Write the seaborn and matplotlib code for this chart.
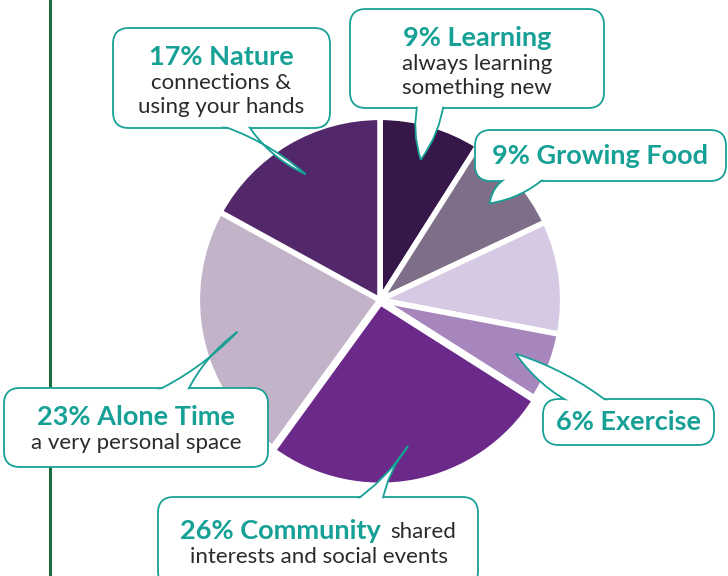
# -*- coding: utf-8 -*-
"""
Pie of what makes people feel well, with speech-bubble callouts.
"""

import numpy as np
import matplotlib
matplotlib.use("Agg")
import matplotlib.pyplot as plt
import seaborn as sns
from matplotlib.patches import FancyBboxPatch, PathPatch
from matplotlib.path import Path


#%% Data

Categories = ["Learning", "Growing Food", "Other", "Exercise", "Community", "Alone Time", "Nature"]
Shares     = [9, 9, 10, 6, 26, 23, 17]

Titles = {"Learning": "9% Learning",
          "Growing Food": "9% Growing Food",
          "Exercise": "6% Exercise",
          "Community": "26% Community",
          "Alone Time": "23% Alone Time",
          "Nature": "17% Nature"}

Notes = {"Learning": "always learning\nsomething new",
         "Growing Food": "",
         "Exercise": "",
         "Community": "interests and social events",
         "Alone Time": "a very personal space",
         "Nature": "connections &\nusing your hands"}

Community_Extra = "shared"


#%% Style

Palette = ["#35174a", "#7f6e88", "#d6c9e3", "#a686bd", "#6b2a8a", "#c2b3c9", "#53286b"]
Explode = [0, 0, 0, 0, 0.015, 0, 0]

Teal       = "#17a096"
Text_Color = "#2a2a2a"
Line_Green = "#1b6b3f"

FontSize_Title = 19.5
FontSize_Note  = 16
FontName       = ["Lato", "DejaVu Sans"]

Wedge_LineWidth = 4
Box_LineWidth   = 1.3
Tip_Radius      = 0.8

# callout layout in pixels (x0, y0 top, width, height), base of pointer (two points), bend
Callouts = {
    "Nature":       dict(box=(113, 28, 217, 100), base=[(210, 122), (246, 122)], bend=-12),
    "Learning":     dict(box=(350, 9, 254, 99),   base=[(418, 102), (444, 102)], bend=8),
    "Growing Food": dict(box=(475, 130, 251, 51), base=[(512, 175), (548, 175)], bend=10),
    "Exercise":     dict(box=(543, 399, 171, 46), base=[(575, 405), (612, 405)], bend=-10),
    "Community":    dict(box=(158, 497, 320, 90), base=[(352, 503), (382, 503)], bend=8),
    "Alone Time":   dict(box=(4, 388, 264, 79),   base=[(150, 394), (186, 394)], bend=10),
}


#%% Figure

sns.set_theme(style="white")
plt.rcParams["font.family"] = FontName

Fig = plt.figure(figsize=[7.28, 5.76], dpi=100)

ax_pie = Fig.add_axes([200/728, 96/576, 360/728, 360/576])

wedges, _ = ax_pie.pie(Shares,
                       colors=Palette,
                       startangle=90,
                       counterclock=False,
                       radius=1.015,
                       explode=Explode,
                       wedgeprops=dict(edgecolor="white", linewidth=Wedge_LineWidth))
ax_pie.set_xlim(-1, 1)
ax_pie.set_ylim(-1, 1)
ax_pie.axis("off")

# overlay in pixel units (y down)
ax = Fig.add_axes([0, 0, 1, 1], zorder=5)
ax.set_xlim(0, 728)
ax.set_ylim(576, 0)
ax.axis("off")
ax.patch.set_alpha(0)

ax.axvline(50, color=Line_Green, linewidth=2.2, zorder=1)

to_px = ax.transData.inverted()

for w, cat in zip(wedges, Categories):
    if cat not in Callouts:
        continue
    c = Callouts[cat]

    # pointer tip from the wedge itself
    mid = np.deg2rad((w.theta1 + w.theta2) / 2)
    tip_data = (w.center[0] + Tip_Radius * w.r * np.cos(mid),
                w.center[1] + Tip_Radius * w.r * np.sin(mid))
    tip = to_px.transform(ax_pie.transData.transform(tip_data))

    x0, y0, bw, bh = c["box"]
    box = FancyBboxPatch((x0, y0), bw, bh,
                         boxstyle="round,pad=0,rounding_size=16",
                         fc="white", ec=Teal, lw=Box_LineWidth, zorder=3)
    ax.add_patch(box)

    # curved pointer
    A = np.array(c["base"][0], float)
    B = np.array(c["base"][1], float)
    T = np.array(tip, float)
    def ctrl(P, Q, k):
        d = Q - P
        n = np.array([-d[1], d[0]]) / (np.hypot(*d) + 1e-9)
        return (P + Q) / 2 + k * n
    verts = [A, ctrl(A, T, c["bend"]), T, ctrl(T, B, c["bend"]), B, A]
    codes = [Path.MOVETO, Path.CURVE3, Path.CURVE3, Path.CURVE3, Path.CURVE3, Path.CLOSEPOLY]
    ax.add_patch(PathPatch(Path(verts, codes), fc="white", ec=Teal, lw=Box_LineWidth, zorder=4))

    inner = FancyBboxPatch((x0 + 1.3, y0 + 1.3), bw - 2.6, bh - 2.6,
                           boxstyle="round,pad=0,rounding_size=15",
                           fc="white", ec="none", zorder=5)
    ax.add_patch(inner)

    cx = x0 + bw / 2
    note = Notes[cat]

    if cat == "Community":
        ax.text(381, y0 + 34, Titles[cat], ha="right", va="center", color=Teal,
                fontsize=FontSize_Title, fontweight="bold", zorder=6)
        ax.text(390, y0 + 35, Community_Extra, ha="left", va="center", color=Text_Color,
                fontsize=FontSize_Note, zorder=6)
        ax.text(319, y0 + 60, note, ha="center", va="center", color=Text_Color,
                fontsize=FontSize_Note, zorder=6)
    elif note == "":
        ax.text(cx, y0 + bh / 2, Titles[cat], ha="center", va="center", color=Teal,
                fontsize=FontSize_Title, fontweight="bold", zorder=6)
    else:
        ax.text(cx, y0 + 29, Titles[cat], ha="center", va="center", color=Teal,
                fontsize=FontSize_Title, fontweight="bold", zorder=6)
        for i, line in enumerate(note.split("\n")):
            ax.text(cx, y0 + 55 + 24 * i, line, ha="center", va="center", color=Text_Color,
                    fontsize=FontSize_Note, zorder=6)

plt.savefig("out.png", dpi=100)
